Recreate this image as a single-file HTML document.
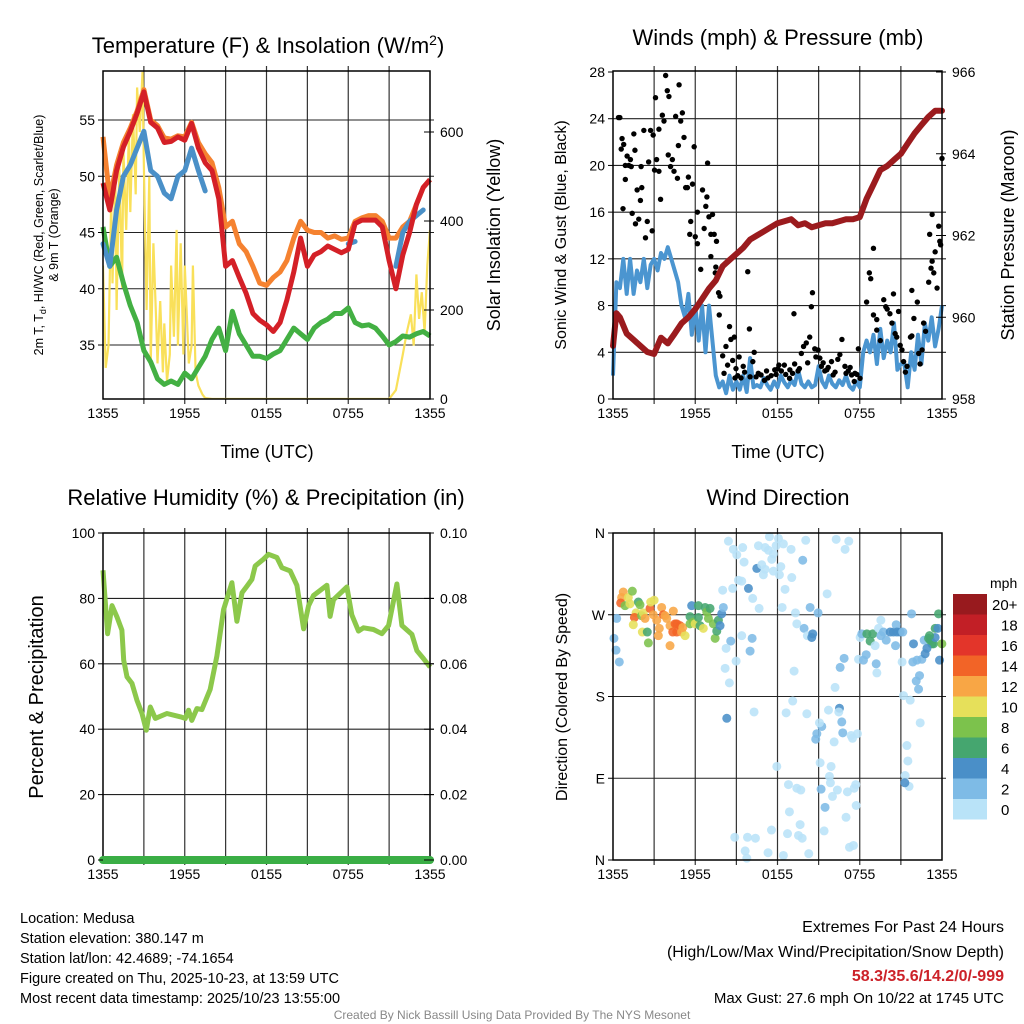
<!DOCTYPE html>
<html><head><meta charset="utf-8"><title>Mesonet Medusa</title>
<style>
html,body{margin:0;padding:0;background:#fff;}
svg{display:block;font-family:"Liberation Sans",sans-serif;}
</style></head>
<body>
<svg id="chart" width="1024" height="1024" viewBox="0 0 1024 1024" xmlns="http://www.w3.org/2000/svg">
<rect x="0" y="0" width="1024" height="1024" fill="#fff"/>
<text x="268" y="53" font-size="22" text-anchor="middle">Temperature (F) &amp; Insolation (W/m<tspan dy="-8" font-size="14">2</tspan><tspan dy="8">)</tspan></text>
<text x="778" y="45" font-size="22" text-anchor="middle">Winds (mph) &amp; Pressure (mb)</text>
<text x="266" y="505" font-size="22" text-anchor="middle">Relative Humidity (%) &amp; Precipitation (in)</text>
<text x="778" y="505" font-size="22" text-anchor="middle">Wind Direction</text>
<g id="layer"></g>
<text x="267" y="458" font-size="18" text-anchor="middle">Time (UTC)</text>
<text x="778" y="458" font-size="18" text-anchor="middle">Time (UTC)</text>
<text transform="translate(43,235) rotate(-90)" font-size="12.5" text-anchor="middle">2m T, T<tspan dy="3" font-size="9">d</tspan><tspan dy="-3">, HI/WC (Red, Green, Scarlet/Blue)</tspan></text>
<text transform="translate(58,235) rotate(-90)" font-size="12.5" text-anchor="middle">&amp; 9m T (Orange)</text>
<text transform="translate(500,235) rotate(-90)" font-size="18" text-anchor="middle">Solar Insolation (Yellow)</text>
<text transform="translate(566,235) rotate(-90)" font-size="16" text-anchor="middle">Sonic Wind &amp; Gust (Blue, Black)</text>
<text transform="translate(1014,235) rotate(-90)" font-size="18" text-anchor="middle">Station Pressure (Maroon)</text>
<text transform="translate(43,697) rotate(-90)" font-size="20" text-anchor="middle">Percent &amp; Precipitation</text>
<text transform="translate(567,697) rotate(-90)" font-size="16" text-anchor="middle">Direction (Colored By Speed)</text>
<text x="990" y="588" font-size="14">mph</text>
<g font-size="14.5">
<text x="20" y="923">Location: Medusa</text>
<text x="20" y="943">Station elevation: 380.147 m</text>
<text x="20" y="963">Station lat/lon: 42.4689; -74.1654</text>
<text x="20" y="983">Figure created on Thu, 2025-10-23, at 13:59 UTC</text>
<text x="20" y="1003">Most recent data timestamp: 2025/10/23 13:55:00</text>
</g>
<g text-anchor="end">
<text x="1004" y="932" font-size="16">Extremes For Past 24 Hours</text>
<text x="1004" y="957" font-size="16">(High/Low/Max Wind/Precipitation/Snow Depth)</text>
<text x="1004" y="981" font-size="16" font-weight="bold" fill="#cc2229">58.3/35.6/14.2/0/-999</text>
<text x="1004" y="1003" font-size="15">Max Gust: 27.6 mph On 10/22 at 1745 UTC</text>
</g>
<text x="512" y="1019" font-size="12" fill="#888" text-anchor="middle">Created By Nick Bassill Using Data Provided By The NYS Mesonet</text>
</svg>
<script>
// ---- data ----
const xTickLabels = ["1355","1955","0155","0755","1355"];
const tempHours = [0,0.5,1,1.5,2,2.5,3,3.5,4,4.5,5,5.5,6,6.5,7,7.5,8,8.5,9,9.5,10,10.5,11,11.5,12,12.5,13,13.5,14,14.5,15,15.5,16,16.5,17,17.5,18,18.5,19,19.5,20,20.5,21,21.5,22,22.5,23,23.5,24];
const tempRed = [49.4,47,50.5,52.6,54,55.6,57.5,54.8,54.3,53,53.1,53.5,53.2,54.7,52.5,51.2,50.5,48,42,42.5,41,39.6,37.8,37.2,36.8,36.2,37,39,41.5,44.5,42,43,43.3,43.8,43.5,43.2,43.5,45.8,46.1,46.1,46.1,45.5,42.5,40,43,45,47.5,49,49.7];
const tempOrange = [53.5,48,51,53,54.3,55.8,57.7,55,54.5,53.4,53.3,53.6,53.5,54.8,53,52,51.2,49,45.5,46,44,43.3,42,40.5,40.3,41,41.5,42.5,44.5,46,45.2,45,45,44.5,44.7,44.4,44.5,46,46.3,46.5,46.5,46,44.5,44.5,45.5,46,47.5,49,49.7];
const tempBlue = [44,42,47,50,51,52.5,54,50.5,50,48.5,48,50,50.5,52.5,50.5,48.7,null,null,null,null,null,null,null,null,null,null,null,null,null,42.5,null,null,null,null,null,null,44,44.2,null,null,45,null,null,42,45,46,46.5,47];
const tempGreen = [45.5,42,42.8,40.5,38.5,37,34.5,33.5,32,31.5,31.8,31.5,32.5,32,33,34,35.5,36.5,34.5,38,36,35,34,34,33.8,34.2,34.5,35.5,36.5,36,35.5,36.5,37,37.3,37.8,37.8,38.3,37,36.7,36.8,36.5,35.8,35,35.3,35.8,35.7,36,36.2,35.8];
const tempTicks = [35,40,45,50,55];
const solarTicks = [0,200,400,600];
const solarHours = [0,0.2,0.4,0.6,0.7,0.9,1,1.2,1.4,1.5,1.7,1.9,2,2.2,2.4,2.5,2.7,2.9,3,3.2,3.4,3.5,3.7,3.9,4,4.2,4.4,4.5,4.7,4.9,5,5.2,5.4,5.5,5.7,5.9,6,6.3,6.5,6.6,6.8,7,7.3,7.5,8,12,16,21,21.5,22,22.3,22.6,22.8,23,23.2,23.4,23.6,23.8,24];
const solarVals = [300,70,120,450,260,500,200,520,250,560,380,600,420,640,460,700,600,735,520,200,500,80,350,180,80,220,60,170,40,100,300,140,380,120,350,100,300,80,120,300,60,30,10,2,0,0,0,0,20,100,150,190,120,280,180,240,150,300,380];
const windHours = [0,0.25,0.5,0.75,1,1.25,1.5,1.75,2,2.25,2.5,2.75,3,3.25,3.5,3.75,4,4.25,4.5,4.75,5,5.25,5.5,5.75,6,6.25,6.5,6.75,7,7.25,7.5,7.75,8,8.25,8.5,8.75,9,9.25,9.5,9.75,10,10.25,10.5,10.75,11,11.25,11.5,11.75,12,12.25,12.5,12.75,13,13.25,13.5,13.75,14,14.25,14.5,14.75,15,15.25,15.5,15.75,16,16.25,16.5,16.75,17,17.25,17.5,17.75,18,18.25,18.5,18.75,19,19.25,19.5,19.75,20,20.25,20.5,20.75,21,21.25,21.5,21.75,22,22.25,22.5,22.75,23,23.25,23.5,23.75,24];
const windVals = [2,10,9.5,12,9,12,9,11,10,12,9.5,11.5,12,11,12.5,12,13,12,11,10,8,7,9,5.5,8,5,8,4,8,5,2,1,1.5,0.5,2,0.8,1.5,0.8,2,0.6,3.5,1,1.2,1,1.8,1.2,0.8,1.5,1,2,1.4,1,1.6,1.2,2.5,1.3,1,1.5,1,1.2,2.8,1.5,1,2,1.3,1,1.6,1.2,2,1.1,0.8,1.5,1,4,5,4,5.5,3,6,3.5,5,4,6.5,2.5,3,3,1,4,2.5,5.5,3,6.5,5,7,4.5,6,8];
const gustHours = [0.4,0.5,0.66,0.78,0.6,1.03,0.9,1.15,1.27,1.33,1.52,1.6,0.9,0.73,1.4,1.88,1.64,1.76,2,2.1,2.05,2.25,2.37,2.5,2.6,2.74,2.86,2.93,3.03,3.18,3.35,3.47,3.1,3.35,3.6,3.72,3.84,3.96,4.08,4.03,4.2,4.33,4.45,4.57,4.7,4.77,4.82,4.94,5.06,5.18,5.3,5.5,5.43,5.67,5.6,5.8,5.92,6,6.16,6.16,6.4,6.53,6.65,6.77,6.85,6.9,7,7.14,7.26,7.38,7.55,7.14,7.5,7.46,7.7,7.8,7.75,8,8.24,8.5,8.6,8.85,8.1,8.36,8.73,8.97,9.1,9.34,9.6,9.83,9.95,10.2,10.3,10.44,10.8,11.05,11.3,11.54,11.8,12.03,12.28,12.5,12.88,13.2,13.25,13.5,13.74,13.9,14.1,14.35,14.47,14.55,14.72,14.96,15.09,15.33,15.45,15.7,15.94,16.06,16.55,16.7,16.92,17.16,17.41,17.65,17.9,18.02,18.5,18.7,18.8,19,19,19.24,19.24,19.5,19.75,19.9,20,20.2,20.35,20.46,20.58,20.7,20.83,20.95,21.08,21.2,21.33,21.45,21.7,21.8,21.8,21.95,22.2,22.3,22.4,22.55,22.66,22.8,23.03,23.1,23.2,23.28,23.4,23.5,23.64,23.28,23.76,23.84,23.9,24,9.5,10.6,11.2,11.9,12.1,12.6,12.9,13.1,13.6,14.2,14.8,15.2,15.6,16.2,16.4,17,17.3,17.6,17.8,9.2,8.9,10];
const gustVals = [24.1,24.1,22.3,21.8,21.4,20.8,20,20,20.5,19.9,22.7,21.3,18.8,16.3,15.9,15.4,15,17.9,17,18.1,19.9,23,13.8,15.2,20.3,23,14.4,22.6,19.6,20.5,19.5,17.1,25.8,23.1,24.3,23.8,27.7,26.4,25.9,20.9,19.9,20.5,19.5,24.2,18.9,21.7,26.9,23.8,24.5,22.4,18.1,19,18.1,15.2,14.1,18.4,21.6,13.9,13.3,16,11.1,17.9,14.6,16.5,17.3,20.2,15.6,14.1,15.8,14.1,13.5,12.2,11.3,10.8,9.1,8.8,7.2,3.7,4.5,6.2,5.1,5.3,2.2,2.9,3.3,2.6,2,1.8,2.3,10.9,6,3.2,4,1.9,2.06,1.6,1.8,2,2.5,2.6,2.4,2.9,1.77,7.3,3,2.4,3.9,4.5,4.8,5.3,7.9,9.1,4.3,4.2,3.5,3.1,2.4,2.7,3.2,2.06,3.8,5.1,2.8,2.4,2.06,2.2,4.3,1.77,8.3,10.8,10.3,12.9,7.2,6.8,5.9,5,8.5,7.9,7.7,7.3,6.5,9,5.6,5.3,7.5,4.6,4.2,3.2,2.3,2.8,5.3,5.4,9.3,6.9,8.3,3.9,3,4.2,6.5,5.8,10,14.1,11.2,11.8,10.8,12.6,9.5,15.8,14.8,13.5,13.2,20.6,2.8,2.2,2.4,2.1,2.9,2.1,2.5,2.2,2.6,3.1,3.6,2.8,2.5,2.3,3.4,2.2,2.7,1.5,2.1,3.6,1.8,1.9];
const pressHours = [0,0.25,0.5,1,1.5,2,2.5,3,3.5,4,4.5,5,5.5,6,6.5,7,7.5,8,8.5,9,9.5,10,10.5,11,11.5,12,12.5,13,13.5,14,14.5,15,15.5,16,16.5,17,17.5,18,18.5,19,19.5,20,20.5,21,21.5,22,22.5,23,23.5,24];
const pressVals = [959.3,960.1,960.0,959.6,959.45,959.3,959.15,959.1,959.5,959.36,959.6,959.85,960.0,960.2,960.45,960.7,960.9,961.25,961.4,961.55,961.7,961.9,962.0,962.1,962.2,962.3,962.35,962.4,962.25,962.3,962.2,962.25,962.3,962.3,962.35,962.4,962.4,962.45,962.9,963.25,963.6,963.7,963.85,964.0,964.25,964.5,964.7,964.9,965.05,965.05];
const windTicks = [0,4,8,12,16,20,24,28];
const pressTicks = [958,960,962,964,966];
const rhHours = [0,0.34,0.66,1.03,1.39,1.52,1.76,2.13,2.49,2.86,3.18,3.47,3.84,4.69,5.67,6.04,6.28,6.52,6.89,7.26,7.87,8.36,8.85,9.46,9.83,10.2,10.56,10.93,11.17,11.78,12.15,12.76,13.13,13.74,14.23,14.72,15.09,15.45,16.43,16.67,16.92,17.9,18.26,18.75,19.12,19.85,20.47,20.96,21.57,21.94,22.67,23.04,23.52,24.01];
const rhVals = [88.6,69.2,77.8,74.3,70.3,61.1,56,54,48.9,44.8,39.7,46.8,43.3,44.8,43.8,43.3,45.8,42.7,46.3,46,52.2,62.4,76.6,84.8,73,81.7,83.7,85.8,89.9,92,93.5,92.5,89.4,88.4,84,70.7,77.8,80.9,84,74.5,79.6,83.5,75,70,71,70.5,69.2,71.7,84.4,71.7,69,64,61.6,59];
const precipHours = [0,24];
const precipVals = [0,0];
const rhTicks = [0,20,40,60,80,100];
const precipTicks = ["0.00","0.02","0.04","0.06","0.08","0.10"];
const dirTickLabels = ["N","E","S","W","N"];
const dirHours = [0.75,0.63,0.56,0.88,1.12,1.24,1.41,1.85,1.97,1.68,1.56,1.48,2.09,2.21,2.34,2.14,2.58,2.5,2.7,2.75,3.0,2.94,3.19,3.38,3.31,3.55,3.67,3.8,3.92,4.16,4.16,4.4,4.53,4.65,4.89,4.36,4.65,5.01,5.26,5.09,5.62,5.74,5.62,5.86,5.99,6.23,6.23,6.35,6.59,6.72,6.84,7.08,6.96,7.32,7.45,7.57,7.69,7.93,7.81,8.05,0.27,0.07,0.22,0.46,8.3,8.42,8.78,9.03,9.46,8.0,8.73,9.15,9.39,9.56,10.49,10.61,10.85,11.1,11.34,11.41,11.7,11.58,11.9,12.07,12.43,11.1,10.97,11.7,12.14,12.24,13.04,12.99,13.84,14.06,16.28,16.93,17.2,9.88,10.19,10.66,12.34,12.55,13.31,13.41,14.38,14.96,15.62,13.94,14.18,14.57,14.5,9.39,10.15,10.0,8.59,8.25,8.98,8.18,8.49,10.29,12.63,13.11,13.21,14.14,15.23,15.06,15.72,16.52,16.47,16.69,16.76,14.87,14.79,16.13,17.37,17.83,17.47,15.11,15.91,11.95,12.8,13.41,13.7,15.79,15.86,16.37,17.1,16.01,17.71,17.59,15.18,15.47,17.74,17.0,12.87,13.65,13.53,13.8,12.73,11.56,8.88,9.81,10.39,15.4,9.64,11.31,12.43,14.28,9.76,17.25,17.54,16.86,16.57,16.2,19.25,19.2,17.91,18.27,18.47,18.03,18.15,18.52,18.95,18.76,19.12,19.37,19.54,19.54,19.73,19.93,20.22,20.46,20.66,20.71,20.95,21.14,20.61,21.09,21.78,21.19,21.68,21.92,21.87,22.17,22.53,22.77,22.7,23.02,23.14,23.26,23.38,23.5,23.5,23.75,23.7,23.82,23.99,22.36,22.12,22.29,22.41,21.44,21.51,21.31,21.6,21.29,22.9,23.09];
const dirDegs = [295,289,283,280,289,282,296,284,281,272,267,259,269,272,266,251,239,251,277,284,286,270,264,255,247,278,270,269,266,258,236,274,260,260,258,251,251,251,247,256,268,280,260,262,260,280,267,258,255,278,273,277,266,260,244,252,264,271,258,278,266,244,231,218,156,351,342,336,344,297,299,308,307,328,321,346,325,344,341,356,337,331,346,354,348,320,314,318,314,323,311,342,330,352,353,342,351,299,288,277,278,298,272,260,278,272,293,255,247,249,245,247,244,230,241,233,219,211,195,163,162,175,208,161,147,151,165,167,163,152,140,139,133,130,137,139,134,107,103,103,83,79,77,92,85,77,75,70,83,79,78,58,60,47,53,39,27,24,29,33,25,25,24,32,10,8,5,7,2,14,16,222,212,190,206,216,221,220,226,245,249,249,249,241,236,255,264,247,251,242,251,251,259,251,251,251,236,218,271,181,176,238,218,220,221,227,242,244,242,238,238,245,255,271,255,220,238,203,197,188,151,126,109,93,81,85,233,247];
const dirSpeeds = [12,12,14,8,10,10,8,6,8,10,14,10,8,10,12,10,8,6,14,10,10,12,12,12,12,12,14,12,12,12,12,12,14,14,14,14,14,12,10,12,6,4,8,8,10,6,6,6,10,6,8,6,8,8,8,6,6,4,4,2,2,2,2,2,4,0,0,0,0,0,0,0,0,0,4,0,0,0,0,0,0,0,0,0,0,0,0,0,0,0,0,0,2,0,0,0,0,4,0,0,0,0,0,0,2,2,0,2,0,4,4,0,2,2,2,0,0,0,0,0,0,0,0,0,2,0,0,4,0,2,2,2,2,0,0,0,0,0,0,0,0,0,0,0,0,0,0,0,0,0,2,2,0,0,0,0,0,0,0,0,0,0,0,0,0,0,0,0,0,0,0,2,2,0,0,2,0,2,2,0,2,6,6,6,0,0,0,2,2,2,4,4,2,4,4,2,2,0,2,0,0,4,2,2,2,4,2,6,6,6,6,4,6,6,4,4,8,2,2,2,0,0,0,0,0,4,4,6];
const speedBins = ["0","2","4","6","8","10","12","14","16","18","20+"];
const speedColors = ["#b9e3f8","#7ebbe6","#4a8fc8","#45a66f","#7cc24c","#e6e05a","#f8a645","#f26427","#e3352a","#c21f26","#981a1e"];

// ---- helpers ----
const NS = "http://www.w3.org/2000/svg";
const layer = document.getElementById("layer");
function mk(tag, attrs, parent){
  const e = document.createElementNS(NS, tag);
  for (const k in attrs) e.setAttribute(k, attrs[k]);
  (parent||layer).appendChild(e);
  return e;
}
function linScale(d0,d1,r0,r1){ return v => r0 + (v-d0)/(d1-d0)*(r1-r0); }
function pathFrom(xs, ys, fx, fy){
  let d = "", pen = false;
  for (let i=0;i<xs.length;i++){
    if (ys[i]===null || ys[i]===undefined){ pen=false; continue; }
    d += (pen?"L":"M") + fx(xs[i]).toFixed(1) + "," + fy(ys[i]).toFixed(1);
    pen = true;
  }
  return d;
}
function speedColor(s){ let i = Math.round(s/2); if(i>10) i=10; if(i<0) i=0; return speedColors[i]; }

function panelFrame(name, L, T, R, B, yVals, fy, hx){
  const g = mk("g", {});
  
  
  for (let k=1; k<8; k++){
    const xx = hx(k*3);
    mk("line", {x1:xx, x2:xx, y1:T-5, y2:B+5, stroke:"#333", "stroke-width":1.2}, g);
  }
  yVals.forEach(v => { mk("line", {x1:L, x2:R+4, y1:fy(v), y2:fy(v), stroke:"#222", "stroke-width":1.1}, g); });
  const xl = mk("g", {"font-size":14, "text-anchor":"middle"});
  
  
  xTickLabels.forEach((t,i) => {
    const tx = mk("text", {x:hx(i*6), y:B+19}, xl);
    tx.textContent = t;
  });
}
function frameBox(name, L, T, R, B){
  const r = mk("rect", {x:L, y:T, width:R-L, height:B-T, fill:"none", stroke:"#000", "stroke-width":1.5});
  
  
}
function leftTicks(name, L, vals, fy, labels){
  const g = mk("g", {"font-size":14, "text-anchor":"end"});
  
  
  vals.forEach((v,i) => {
    mk("line", {x1:L-5, x2:L, y1:fy(v), y2:fy(v), stroke:"#000", "stroke-width":1}, g);
    const t = mk("text", {x:L-8, y:fy(v)+5}, g);
    t.textContent = labels ? labels[i] : v;
  });
}
function rightTicks(name, R, vals, fy, labels){
  const g = mk("g", {"font-size":14, "text-anchor":"start"});
  
  
  vals.forEach((v,i) => {
    mk("line", {x1:R-6, x2:R+4, y1:fy(v), y2:fy(v), stroke:"#000", "stroke-width":1}, g);
    const t = mk("text", {x:R+10, y:fy(v)+5}, g);
    t.textContent = labels ? labels[i] : v;
  });
}

// ---- Panel 1: temperature ----
(function(){
  const L=103,T=71,R=430,B=399;
  const hx = linScale(0,24,L,R);
  const ty = linScale(35,55,345,120);
  const sy = linScale(0,600,B,132);
  panelFrame("temperature", L,T,R,B, tempTicks, ty, hx);
  const clip = mk("clipPath",{id:"c1"}); mk("rect",{x:L,y:T,width:R-L,height:B-T},clip);
  let p;
  p = mk("path",{d:pathFrom(solarHours,solarVals,hx,sy),fill:"none",stroke:"#f9e05a","stroke-width":2.2,"clip-path":"url(#c1)"});
  
  
  p = mk("path",{d:pathFrom(tempHours,tempGreen,hx,ty),fill:"none",stroke:"#43b043","stroke-width":5,"stroke-linejoin":"round"});
  
  
  p = mk("path",{d:pathFrom(tempHours,tempOrange,hx,ty),fill:"none",stroke:"#f58230","stroke-width":5,"stroke-linejoin":"round"});
  
  
  p = mk("path",{d:pathFrom(tempHours,tempBlue,hx,ty),fill:"none",stroke:"#4a90c8","stroke-width":5,"stroke-linejoin":"round","stroke-linecap":"round"});
  
  
  p = mk("path",{d:pathFrom(tempHours,tempRed,hx,ty),fill:"none",stroke:"#d42027","stroke-width":5,"stroke-linejoin":"round"});
  
  
  frameBox("temperature",L,T,R,B);
  leftTicks("temperature-y-ticks", L, tempTicks, ty);
  rightTicks("solar-y-ticks", R, solarTicks, sy);
})();

// ---- Panel 2: wind & pressure ----
(function(){
  const L=613,T=71,R=942,B=399;
  const hx = linScale(0,24,L,R);
  const wy = linScale(0,28,B,T+1);
  const py = linScale(958,966,B,T+1);
  panelFrame("wind", L,T,R,B, windTicks.slice(1,-1), wy, hx);
  let p = mk("path",{d:pathFrom(windHours,windVals,hx,wy),fill:"none",stroke:"#4b95d0","stroke-width":4,"stroke-linejoin":"round"});
  
  
  const gg = mk("g",{fill:"#000"});
  
  
  gustHours.forEach((h,i) => {
    const c = mk("circle",{cx:hx(h),cy:wy(gustVals[i]),r:2.7},gg);
    
    
  });
  p = mk("path",{d:pathFrom(pressHours,pressVals,hx,py),fill:"none",stroke:"#9b1b1e","stroke-width":6,"stroke-linejoin":"round","stroke-linecap":"round"});
  
  
  frameBox("wind",L,T,R,B);
  leftTicks("wind-y-ticks", L, windTicks, wy);
  rightTicks("pressure-y-ticks", R, pressTicks, py);
})();

// ---- Panel 3: humidity ----
(function(){
  const L=103,T=533,R=430,B=860;
  const hx = linScale(0,24,L,R);
  const ry = linScale(0,100,B,T);
  const qy = linScale(0,0.10,B,T);
  panelFrame("humidity", L,T,R,B, rhTicks.slice(1,-1), ry, hx);
  let p = mk("path",{d:pathFrom(rhHours,rhVals,hx,ry),fill:"none",stroke:"#8cc84b","stroke-width":5,"stroke-linejoin":"round"});
  
  
  frameBox("humidity",L,T,R,B);
  p = mk("path",{d:pathFrom(precipHours,precipVals,hx,qy),fill:"none",stroke:"#3aae45","stroke-width":8,"stroke-linecap":"round"});
  
  
  leftTicks("humidity-y-ticks", L, rhTicks, ry);
  rightTicks("precip-y-ticks", R, rhTicks, ry, precipTicks);
})();

// ---- Panel 4: wind direction ----
(function(){
  const L=613,T=533,R=942,B=860;
  const hx = linScale(0,24,L,R);
  const dy = linScale(0,360,B,T);
  panelFrame("direction", L,T,R,B, [90,180,270], dy, hx);
  const g = mk("g",{});
  
  
  dirHours.forEach((h,i) => {
    const c = mk("circle",{cx:hx(h),cy:dy(dirDegs[i]),r:4.5,fill:speedColor(dirSpeeds[i]),"fill-opacity":0.88},g);
    
    
  });
  frameBox("direction",L,T,R,B);
  leftTicks("direction-y-ticks", L, [0,90,180,270,360], dy, dirTickLabels);
  // colorbar
  const cb = mk("g",{"font-size":15});
  
  
  const cbTop=594, cbH=20.5;
  speedBins.forEach((lab,i) => {
    const j = speedBins.length-1-i;
    const y = cbTop + j*cbH;
    const r = mk("rect",{x:953,y:y,width:34,height:cbH,fill:speedColors[i]},cb);
    
    
    const t = mk("text",{x:lab.length>2?992:1001,y:y+16},cb);
    t.textContent = lab;
  });
})();
</script>
</body></html>
